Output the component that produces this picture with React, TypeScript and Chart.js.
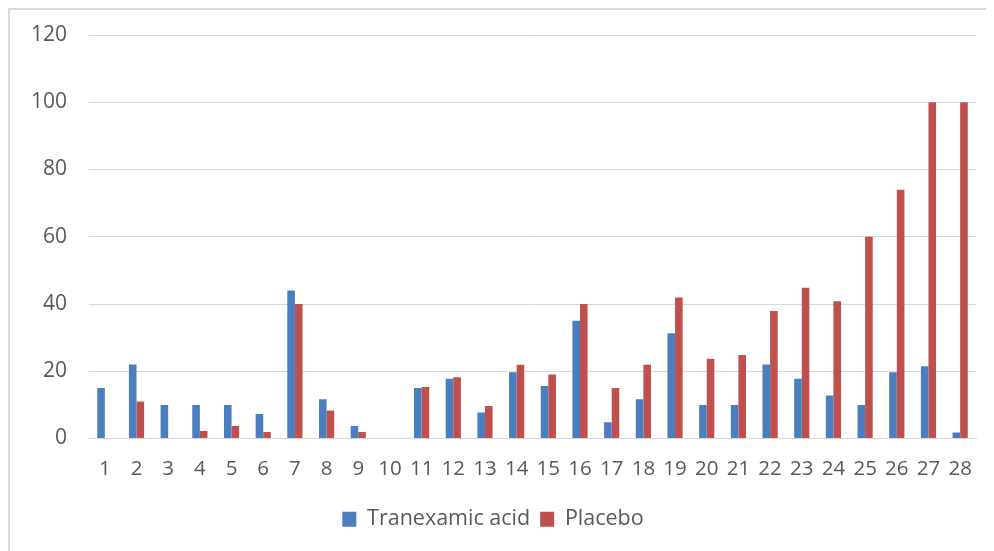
import React, { useEffect, useRef } from "react";
import { Chart, registerables } from "chart.js";

Chart.register(...registerables);

const categories = ["1","2","3","4","5","6","7","8","9","10","11","12","13","14","15","16","17","18","19","20","21","22","23","24","25","26","27","28"];
const tranexamicAcid = [15, 22, 10, 10, 10, 7.3, 44, 11.7, 3.7, 0, 15, 17.8, 7.7, 19.7, 15.6, 35, 4.8, 11.7, 31.3, 10, 10, 22, 17.8, 12.8, 10, 19.7, 21.5, 1.8];
const placebo = [0, 11, 0, 2.2, 3.7, 1.9, 40, 8.3, 1.9, 0, 15.3, 18.2, 9.7, 21.9, 19, 40, 15, 21.9, 41.9, 23.7, 24.8, 37.9, 44.8, 40.8, 60, 74, 100, 100];
const yMin = 0;
const yMax = 120;
const yStep = 20;

export default function App() {
  const ref = useRef<HTMLCanvasElement | null>(null);
  useEffect(() => {
    if (!ref.current) return;
    const tickColor = "#595959";
    const chart = new Chart(ref.current, {
      type: "bar",
      data: {
        labels: categories,
        datasets: [
          { label: "Tranexamic acid", data: tranexamicAcid, backgroundColor: "#4a7ebf", borderWidth: 0, categoryPercentage: 0.48, barPercentage: 1 },
          { label: "Placebo", data: placebo, backgroundColor: "#c0504d", borderWidth: 0, categoryPercentage: 0.48, barPercentage: 1 },
        ],
      },
      options: {
        responsive: false,
        animation: false,
        maintainAspectRatio: false,
        layout: { padding: { top: 25, right: 17, bottom: 10, left: 0 } },
        plugins: {
          legend: {
            position: "bottom",
            labels: {
              font: { family: "'Open Sans'", size: 21.5 },
              color: tickColor,
              boxWidth: 14,
              boxHeight: 15,
              padding: 10,
            },
          },
          tooltip: { enabled: false },
        },
        scales: {
          x: {
            grid: { display: false, drawTicks: false },
            border: { display: true, color: "#d9d9d9", width: 1 },
            ticks: { font: { family: "'Open Sans'", size: 20.5 }, color: tickColor, padding: 18, maxRotation: 0, autoSkip: false },
            afterFit: (s: any) => { s.height = 60; },
          },
          y: {
            min: yMin,
            max: yMax,
            grid: { color: "#d9d9d9", drawTicks: true, tickLength: 19, tickColor: "rgba(0,0,0,0)" },
            border: { display: false },
            ticks: { stepSize: yStep, font: { family: "'Open Sans'", size: 21 }, color: tickColor, padding: 3 },
            afterFit: (s: any) => { s.width = 79; },
          },
        },
      },
    });
    return () => chart.destroy();
  }, []);
  return (
    <div style={{ width: 985, height: 542, borderTop: "2px solid #d9d9d9", borderLeft: "2px solid #d9d9d9", background: "#fff" }}>
      <canvas ref={ref} width={983} height={540} />
    </div>
  );
}
